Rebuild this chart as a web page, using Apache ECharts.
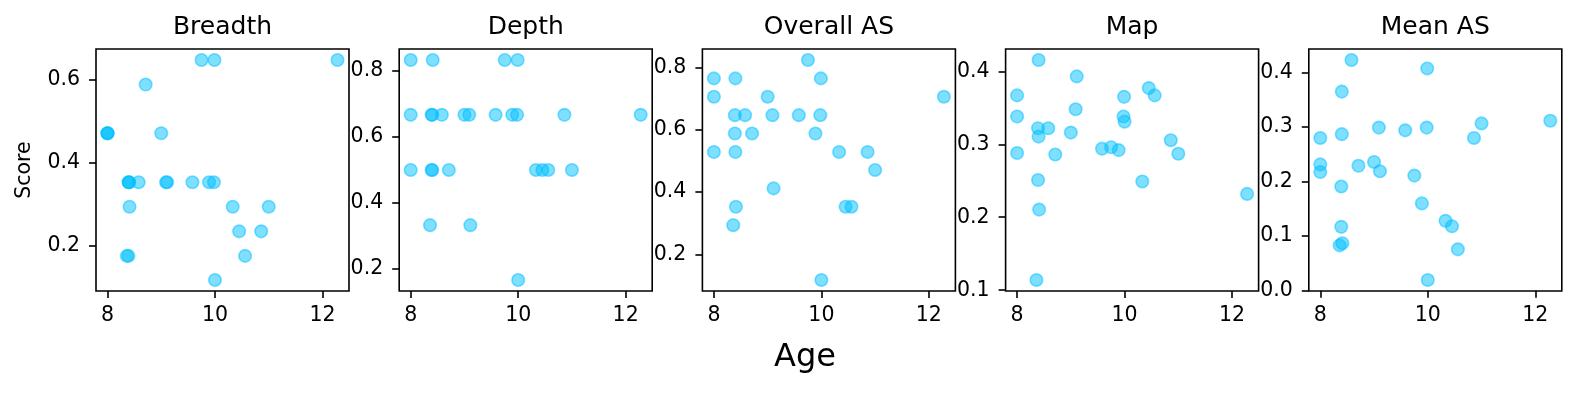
<!DOCTYPE html>
<html><head><meta charset="utf-8">
<script src="https://cdn.jsdelivr.net/npm/echarts@6/dist/echarts.min.js"></script>
<style>html,body{margin:0;padding:0;background:#fff}#c{width:1577px;height:393px}</style>
</head><body><div id="c"></div>
<script>
// ---- data ----
const ages    = [8.0, 8.0, 8.0, 8.36, 8.39, 8.39, 8.40, 8.40, 8.41, 8.58, 8.71, 9.0, 9.09, 9.11, 9.58, 9.75, 9.89, 9.98, 9.99, 10.0, 10.33, 10.45, 10.56, 10.86, 11.0, 12.28];
const breadth = [0.471,0.471,0.471,0.176,0.353,0.176,0.353,0.353,0.294,0.353,0.588,0.471,0.353,0.353,0.353,0.647,0.353,0.353,0.647,0.118,0.294,0.235,0.176,0.235,0.294,0.647];
const depth   = [0.833,0.667,0.5,0.333,0.667,0.5,0.667,0.5,0.833,0.667,0.5,0.667,0.667,0.333,0.667,0.833,0.667,0.667,0.833,0.167,0.5,0.5,0.5,0.667,0.5,0.667];
const overallAS = [0.765,0.706,0.529,0.294,0.647,0.588,0.765,0.529,0.353,0.647,0.588,0.706,0.647,0.412,0.647,0.824,0.588,0.647,0.765,0.118,0.529,0.353,0.353,0.529,0.471,0.706];
const mapScore  = [0.367,0.338,0.288,0.114,0.322,0.251,0.4155,0.3105,0.2105,0.322,0.286,0.316,0.348,0.393,0.294,0.296,0.292,0.338,0.365,0.331,0.249,0.377,0.367,0.3055,0.287,0.232];
const meanAS    = [0.280,0.2315,0.2175,0.083,0.117,0.191,0.365,0.287,0.087,0.423,0.229,0.236,0.299,0.219,0.294,0.211,0.160,0.299,0.4075,0.0195,0.128,0.118,0.0757,0.280,0.3067,0.3115];

const panelTitles = ['Breadth', 'Depth', 'Overall AS', 'Map', 'Mean AS'];
const xTicks = [8, 10, 12];
const breadthTicks = [0.2, 0.4, 0.6];
const depthTicks = [0.2, 0.4, 0.6, 0.8];
const overallTicks = [0.2, 0.4, 0.6, 0.8];
const mapTicks = [0.1, 0.2, 0.3, 0.4];
const meanTicks = [0.0, 0.1, 0.2, 0.3, 0.4];
const xLabel = 'Age';
const yLabel = 'Score';

const panelValues = [breadth, depth, overallAS, mapScore, meanAS];
const panelTicks = [breadthTicks, depthTicks, overallTicks, mapTicks, meanTicks];

// ---- layout / style ----
const FONT = 'DejaVu Sans';
const L0 = 96, STEP = 303.2, W = 253, TOP = 49, H = 242;
const COLOR = '#00BFFF';

function padded(arr) {
  const mn = Math.min(...arr), mx = Math.max(...arr), m = (mx - mn) * 0.05;
  return [mn - m, mx + m];
}
const xr = padded(ages);

const grids = [], xAxes = [], yAxes = [], series = [], graphics = [];
panelValues.forEach((vals, i) => {
  const left = L0 + i * STEP;
  grids.push({left: left, top: TOP, width: W, height: H, show: true,
    borderColor: '#000', borderWidth: 1.6, backgroundColor: 'transparent', containLabel: false});
  xAxes.push({type: 'value', gridIndex: i, min: xr[0], max: xr[1],
    axisLine: {show: false}, splitLine: {show: false},
    axisTick: {show: true, length: 7, lineStyle: {color: '#000', width: 1.6}, customValues: xTicks},
    axisLabel: {show: true, customValues: xTicks, margin: 14, color: '#000', fontFamily: FONT, fontSize: 20.5,
      formatter: v => String(Math.round(v))}
  });
  const yr = padded(vals);
  const ticks = panelTicks[i];
  yAxes.push({type: 'value', gridIndex: i, min: yr[0], max: yr[1],
    axisLine: {show: false}, splitLine: {show: false},
    axisTick: {show: true, length: 7, lineStyle: {color: '#000', width: 1.6}, customValues: ticks},
    axisLabel: {show: true, customValues: ticks, margin: 16, color: '#000', fontFamily: FONT, fontSize: 20.5,
      formatter: v => v.toFixed(1)}
  });
  series.push({type: 'scatter', xAxisIndex: i, yAxisIndex: i,
    data: ages.map((a, k) => [a, vals[k]]),
    symbol: 'circle', symbolSize: 12.5, silent: true,
    itemStyle: {color: COLOR, opacity: 0.5, borderColor: COLOR, borderWidth: 1.6}
  });
  graphics.push({type: 'text', x: left + W / 2, y: 27,
    style: {text: panelTitles[i], font: '25px "DejaVu Sans"', fill: '#000', textAlign: 'center', textVerticalAlign: 'middle'}});
});
graphics.push({type: 'text', x: 805, y: 358,
  style: {text: xLabel, font: '32px "DejaVu Sans"', fill: '#000', textAlign: 'center', textVerticalAlign: 'middle'}});
graphics.push({type: 'text', x: 25, y: TOP + H / 2, rotation: Math.PI / 2,
  style: {text: yLabel, font: '20.5px "DejaVu Sans"', fill: '#000', textAlign: 'center', textVerticalAlign: 'middle'}});

const chart = echarts.init(document.getElementById('c'), null, {renderer: 'canvas'});
chart.setOption({
  animation: false,
  backgroundColor: '#fff',
  textStyle: {fontFamily: FONT},
  grid: grids, xAxis: xAxes, yAxis: yAxes, series: series, graphic: graphics
});
</script></body></html>
